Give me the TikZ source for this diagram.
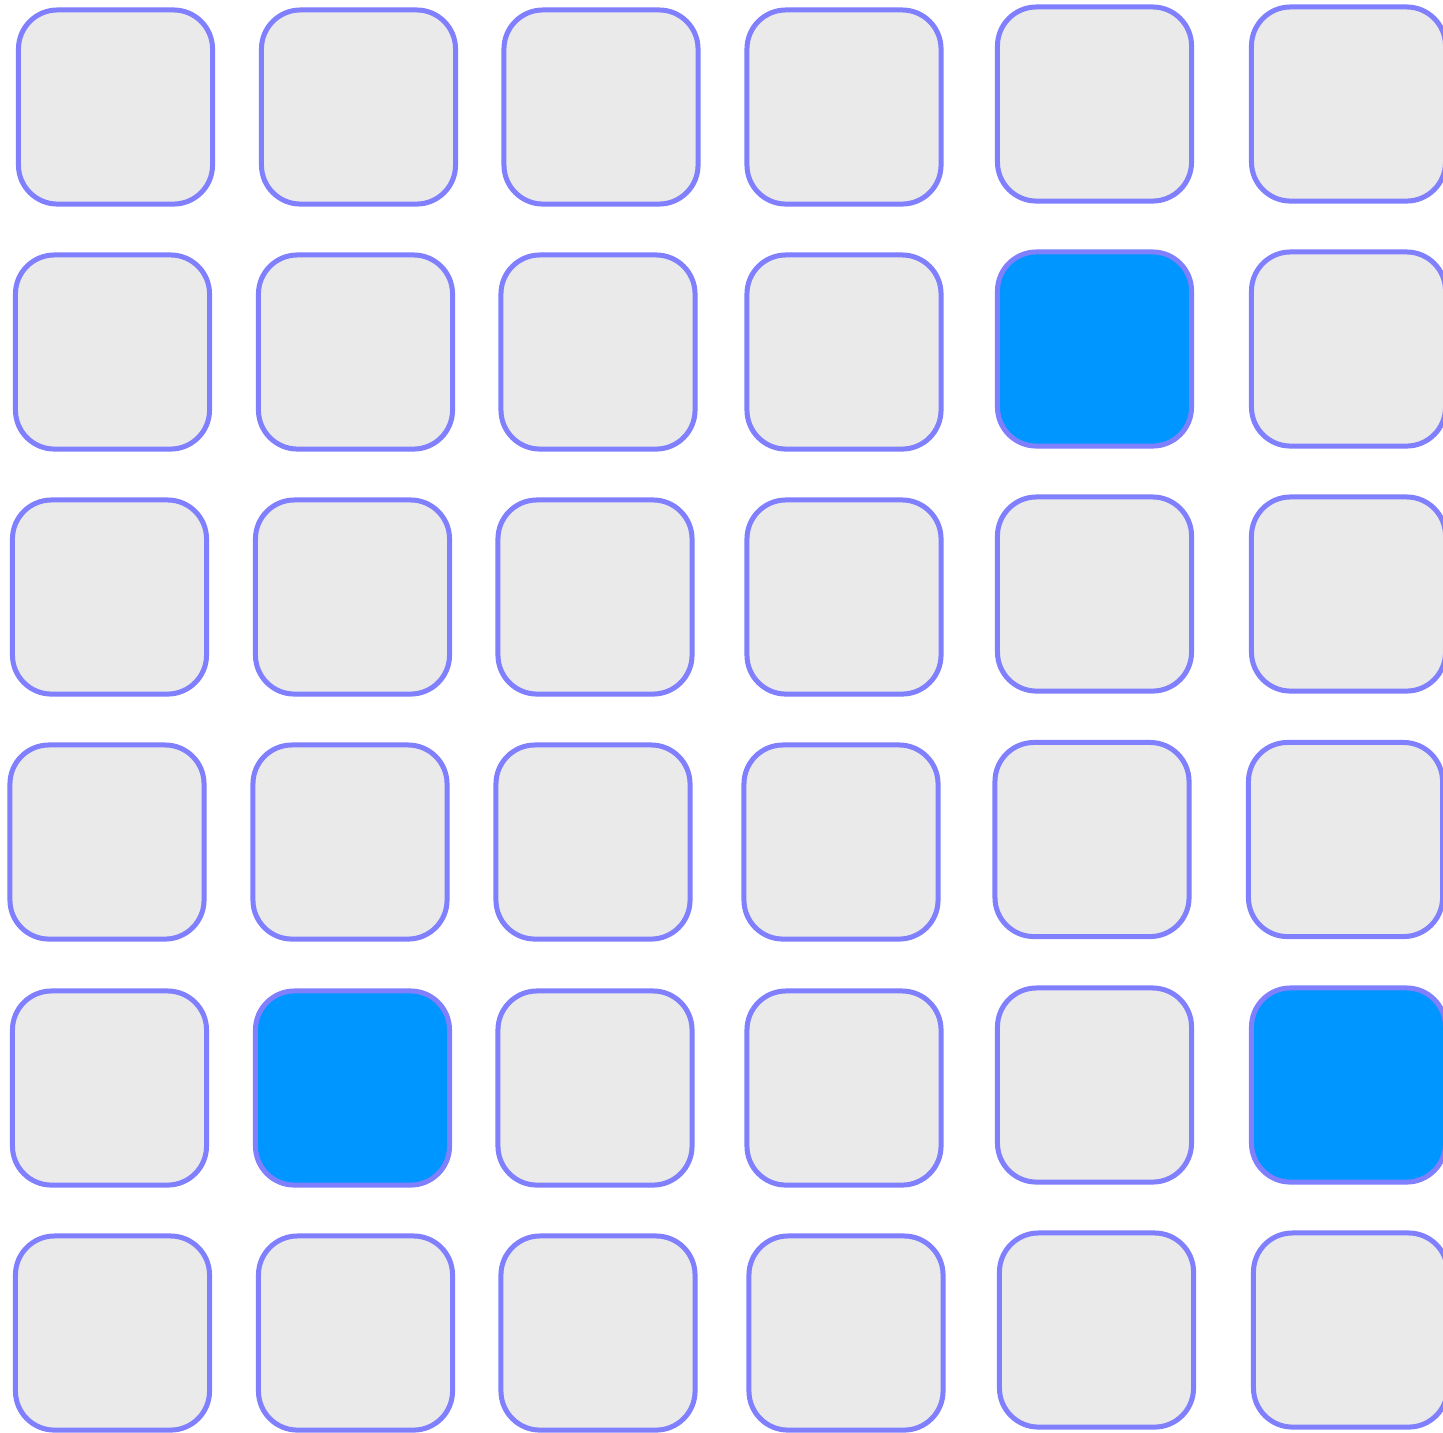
\documentclass[tikz,border=0pt]{standalone}
\usepackage{xcolor}
\usepackage{tikz}
\definecolor{CellGrey}{RGB}{234,234,234}
\definecolor{CellEdge}{RGB}{128,128,255}
\definecolor{CellBlue}{RGB}{0,150,255}
\begin{document}
\begin{tikzpicture}[
    x=0.01cm,y=-0.01cm,
    cell/.style={draw=CellEdge,fill=CellGrey,rounded corners=0.39cm,line width=0.05cm,
                 minimum width=1.94cm,minimum height=1.94cm,inner sep=0pt},
    cellon/.style={cell,fill=CellBlue}
  ]
    \useasboundingbox (0,0) rectangle (1443,1432);
    % row 1
    \foreach \n/\x/\y in {a1/115.5/107,a2/358.5/107,a3/601/107,a4/844/107,a5/1094.5/104,a6/1348.5/104}
      \node[cell] (\n) at (\x,\y) {};
    % row 2
    \foreach \n/\x/\y in {b1/112.5/352,b2/355.5/352,b3/598/352,b4/844/352,b6/1348.5/349}
      \node[cell] (\n) at (\x,\y) {};
    \node[cellon] (b5) at (1094.5,349) {};
    % row 3
    \foreach \n/\x/\y in {c1/109.5/597,c2/352.5/597,c3/595/597,c4/844/597,c5/1094.5/594,c6/1348.5/594}
      \node[cell] (\n) at (\x,\y) {};
    % row 4
    \foreach \n/\x/\y in {d1/107/842,d2/350/842,d3/593/842,d4/841/842,d5/1092/839.5,d6/1345.5/839.5}
      \node[cell] (\n) at (\x,\y) {};
    % row 5
    \foreach \n/\x/\y in {e1/109.5/1088,e3/595/1088,e4/844/1088,e5/1094.5/1085}
      \node[cell] (\n) at (\x,\y) {};
    \node[cellon] (e2) at (352.5,1088) {};
    \node[cellon] (e6) at (1348.5,1085) {};
    % row 6
    \foreach \n/\x/\y in {f1/112.5/1333,f2/355.5/1333,f3/598/1333,f4/846/1333,f5/1096.5/1330,f6/1350.5/1330}
      \node[cell] (\n) at (\x,\y) {};
  \end{tikzpicture}
\end{document}
